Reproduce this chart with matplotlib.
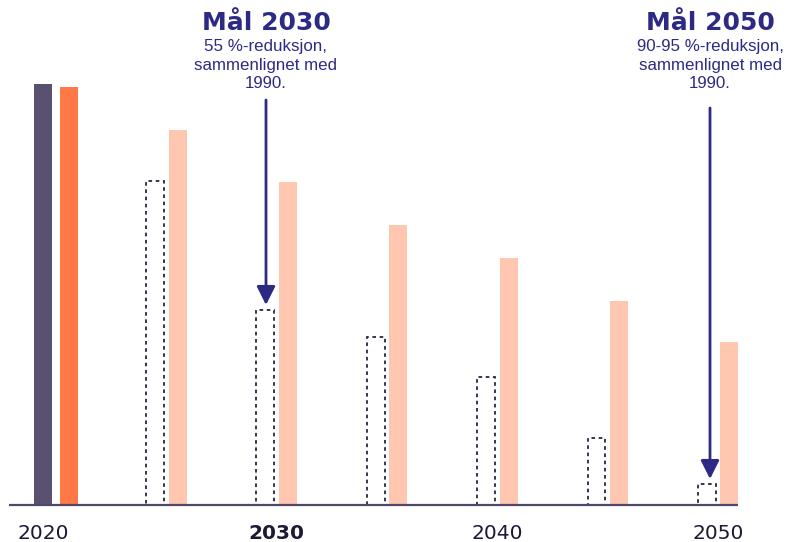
import numpy as np
import matplotlib.pyplot as plt

# data (index 2020 = 100)
years = [2020, 2025, 2030, 2035, 2040, 2045, 2050]
base_2020 = 100.0        # dark bar 2020
actual_2020 = 99.3       # orange bar 2020
target_path = [77.0, 46.3, 39.9, 30.4, 15.9, 5.0]     # dotted outline bars 2025-2050
projection = [89.1, 76.7, 66.5, 58.7, 48.5, 38.7]     # light orange bars 2025-2050
tick_years = [2020, 2030, 2040, 2050]

DARK = '#5a5170'
ORANGE = '#ff7845'
LIGHT = '#ffc6b0'
EDGE = '#2a2540'
NAVY = '#2d2a84'
TEXT = '#1d1836'

W, H = 786, 542
fig = plt.figure(figsize=(W / 100, H / 100), dpi=100)
ax = fig.add_axes([0, 0, 1, 1])

# pixel -> data helpers for layout
ppy = 22.07   # pixels per year
ppv = 4.21    # pixels per index point
x0 = 2020 - 56 / ppy
y0 = -(H - 505) / ppv
ax.set_xlim(x0, x0 + W / ppy)
ax.set_ylim(y0, y0 + H / ppv)


def px(x):
    return x0 + x / ppy


def py(y):
    return y0 + (H - y) / ppv


bw = 18 / ppy
# 2020 pair
ax.bar(2020 - 13 / ppy, base_2020, width=bw, color=DARK, zorder=2)
ax.bar(2020 + 13 / ppy, actual_2020, width=bw, color=ORANGE, zorder=2)

# later pairs
yrs = np.array(years[1:])
off = 11.25 / ppy
ax.bar(yrs - off, target_path, width=bw, facecolor='none', edgecolor=EDGE,
       linewidth=1.3, linestyle=(0, (2, 2)), zorder=2)
ax.bar(yrs + off, projection, width=bw, color=LIGHT, zorder=2)

# baseline
ax.plot([px(9), px(738)], [0, 0], color='#4f4866', lw=1.6, zorder=3,
        solid_capstyle='butt')

# year labels
for yr in tick_years:
    xx = 2020 - 13 / ppy if yr == 2020 else yr
    ax.text(xx, py(539), str(yr), ha='center', va='baseline', fontsize=14.5,
            color=TEXT, family='DejaVu Sans',
            fontweight='bold' if yr == 2030 else 'normal')

# annotations
notes = [
    (266, 'Mål 2030', '55 %-reduksjon,\nsammenlignet med\n1990.', 100, 305),
    (710, 'Mål 2050', '90-95 %-reduksjon,\nsammenlignet med\n1990.', 108, 479),
]
for cx, title, sub, ys, ye in notes:
    ax.text(px(cx), py(30), title, ha='center', va='baseline', fontsize=18,
            fontweight='bold', color=NAVY, family='DejaVu Sans')
    ax.text(px(cx), py(39), sub, ha='center', va='top', fontsize=12.2,
            color=NAVY, family='Liberation Sans', linespacing=1.3)
    ax.annotate('', xy=(px(cx), py(ye)), xytext=(px(cx), py(ys)),
                arrowprops=dict(arrowstyle='-|>', color=NAVY, lw=2,
                                mutation_scale=28, shrinkA=0, shrinkB=0))

ax.axis('off')
fig.savefig('out.png', dpi=100)
